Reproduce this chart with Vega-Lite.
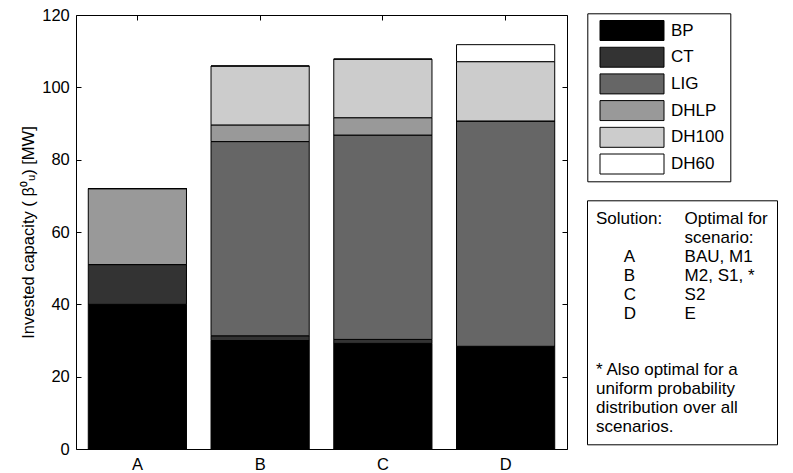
{
  "$schema": "https://vega.github.io/schema/vega-lite/v6.json",
  "width": 491,
  "height": 434,
  "autosize": {"type": "none"},
  "padding": {"left": 76, "top": 15, "right": 226, "bottom": 24},
  "background": "white",
  "config": {
    "view": {"stroke": null},
    "font": "Liberation Sans",
    "axis": {
      "domainColor": "black",
      "tickColor": "black",
      "labelColor": "black",
      "titleColor": "black",
      "labelFont": "Liberation Sans",
      "titleFont": "Liberation Sans",
      "labelFontSize": 16.5,
      "titleFontSize": 16.5,
      "titleFontWeight": "normal",
      "grid": false
    }
  },
  "data": {
    "values": [
      {"solution": "A", "tech": "BP", "rank": 1, "value": 40},
      {"solution": "A", "tech": "CT", "rank": 2, "value": 11},
      {"solution": "A", "tech": "LIG", "rank": 3, "value": 0},
      {"solution": "A", "tech": "DHLP", "rank": 4, "value": 21},
      {"solution": "A", "tech": "DH100", "rank": 5, "value": 0},
      {"solution": "A", "tech": "DH60", "rank": 6, "value": 0},
      {"solution": "B", "tech": "BP", "rank": 1, "value": 30},
      {"solution": "B", "tech": "CT", "rank": 2, "value": 1.3},
      {"solution": "B", "tech": "LIG", "rank": 3, "value": 53.7},
      {"solution": "B", "tech": "DHLP", "rank": 4, "value": 4.6},
      {"solution": "B", "tech": "DH100", "rank": 5, "value": 16.3},
      {"solution": "B", "tech": "DH60", "rank": 6, "value": 0},
      {"solution": "C", "tech": "BP", "rank": 1, "value": 29.2},
      {"solution": "C", "tech": "CT", "rank": 2, "value": 1.1},
      {"solution": "C", "tech": "LIG", "rank": 3, "value": 56.5},
      {"solution": "C", "tech": "DHLP", "rank": 4, "value": 4.8},
      {"solution": "C", "tech": "DH100", "rank": 5, "value": 16.2},
      {"solution": "C", "tech": "DH60", "rank": 6, "value": 0},
      {"solution": "D", "tech": "BP", "rank": 1, "value": 28.4},
      {"solution": "D", "tech": "CT", "rank": 2, "value": 0},
      {"solution": "D", "tech": "LIG", "rank": 3, "value": 62.3},
      {"solution": "D", "tech": "DHLP", "rank": 4, "value": 0},
      {"solution": "D", "tech": "DH100", "rank": 5, "value": 16.4},
      {"solution": "D", "tech": "DH60", "rank": 6, "value": 4.7}
    ]
  },
  "layer": [
    {
      "mark": {"type": "bar", "stroke": "black", "strokeWidth": 1},
      "encoding": {
        "x": {
          "field": "solution",
          "type": "nominal",
          "scale": {"paddingInner": 0.2, "paddingOuter": 0.1},
          "axis": {"title": null, "labelAngle": 0, "ticks": false, "labelPadding": 7.5}
        },
        "y": {
          "field": "value",
          "type": "quantitative",
          "stack": "zero",
          "scale": {"domain": [0, 120], "nice": false},
          "axis": {
            "title": "Invested capacity ( \u03b2\u2070\u1d64) [MW]",
            "values": [0, 20, 40, 60, 80, 100, 120],
            "tickSize": -5,
            "labelPadding": 11.7,
            "titlePadding": 5
          }
        },
        "order": {"field": "rank", "type": "quantitative", "sort": "ascending"},
        "color": {
          "field": "tech",
          "type": "nominal",
          "scale": {
            "domain": ["BP", "CT", "LIG", "DHLP", "DH100", "DH60"],
            "range": ["#000000", "#333333", "#666666", "#999999", "#cccccc", "#ffffff"]
          },
          "legend": {
            "title": null,
            "orient": "none",
            "legendX": 511.3,
            "legendY": -1.7,
            "direction": "vertical",
            "padding": 6.2,
            "strokeColor": "black",
            "fillColor": "white",
            "symbolType": "M-1,-0.3125H1V0.3125H-1Z",
            "symbolSize": 4096,
            "symbolStrokeColor": "black",
            "symbolStrokeWidth": 1,
            "symbolOpacity": 1,
            "symbolOffset": 6,
            "labelOffset": 6.5,
            "clipHeight": 22,
            "rowPadding": 4.7,
            "labelFont": "Liberation Sans",
            "labelFontSize": 17,
            "labelColor": "black",
            "labelBaseline": "middle"
          }
        }
      }
    },
    {
      "mark": {"type": "point", "opacity": 0},
      "encoding": {
        "x": {
          "field": "solution",
          "type": "nominal",
          "axis": {"orient": "top", "title": null, "labels": false, "tickSize": -5}
        },
        "y": {
          "field": "value",
          "type": "quantitative",
          "axis": {"orient": "right", "title": null, "labels": false, "tickSize": -5, "values": [0, 20, 40, 60, 80, 100, 120]}
        }
      }
    },
    {
      "data": {
        "values": [
          {"entry": "Solution:"},
          {"entry": " "},
          {"entry": "  "},
          {"entry": "   "},
          {"entry": "    "},
          {"entry": "     "},
          {"entry": "Optimal for"},
          {"entry": "scenario:"},
          {"entry": "BAU, M1"},
          {"entry": "M2, S1, *"},
          {"entry": "S2"},
          {"entry": "E"}
        ]
      },
      "mark": {"type": "point", "opacity": 0},
      "encoding": {
        "shape": {
          "field": "entry",
          "type": "nominal",
          "scale": {"domain": ["Solution:", " ", "  ", "   ", "    ", "     ", "Optimal for", "scenario:", "BAU, M1", "M2, S1, *", "S2", "E"]},
          "legend": {
            "title": ["* Also optimal for a", "uniform probability", "distribution over all", "scenarios."],
            "titleOrient": "bottom",
            "titleAnchor": "start",
            "titleAlign": "left",
            "titleBaseline": "top",
            "titleFont": "Liberation Sans",
            "titleFontSize": 17,
            "titleFontWeight": "normal",
            "titleColor": "black",
            "titleLineHeight": 19,
            "titlePadding": 38.7,
            "titleLimit": 400,
            "orient": "none",
            "legendX": 511,
            "legendY": 185.3,
            "direction": "vertical",
            "columns": 2,
            "columnPadding": 21.6,
            "rowPadding": 0,
            "clipHeight": 19,
            "padding": 9,
            "strokeColor": "black",
            "symbolSize": 0,
            "symbolStrokeWidth": 0,
            "symbolOpacity": 0,
            "labelOffset": -17,
            "labelFont": "Liberation Sans",
            "labelFontSize": 17,
            "labelColor": "black",
            "labelBaseline": "middle",
            "labelLimit": 400
          }
        }
      }
    },
    {
      "data": {
        "values": [
          {"sol": "A"},
          {"sol": "B"},
          {"sol": "C"},
          {"sol": "D"}
        ]
      },
      "mark": {"type": "point", "opacity": 0},
      "encoding": {
        "strokeDash": {
          "field": "sol",
          "type": "nominal",
          "scale": {"domain": ["A", "B", "C", "D"]},
          "legend": {
            "title": null,
            "orient": "none",
            "legendX": 547.7,
            "legendY": 232.3,
            "direction": "vertical",
            "padding": 0,
            "clipHeight": 19,
            "rowPadding": 0,
            "symbolSize": 0,
            "symbolStrokeWidth": 0,
            "symbolOpacity": 0,
            "labelOffset": -17,
            "labelFont": "Liberation Sans",
            "labelFontSize": 17,
            "labelColor": "black",
            "labelBaseline": "middle"
          }
        }
      }
    }
  ],
  "resolve": {"axis": {"x": "independent", "y": "independent"}}
}
